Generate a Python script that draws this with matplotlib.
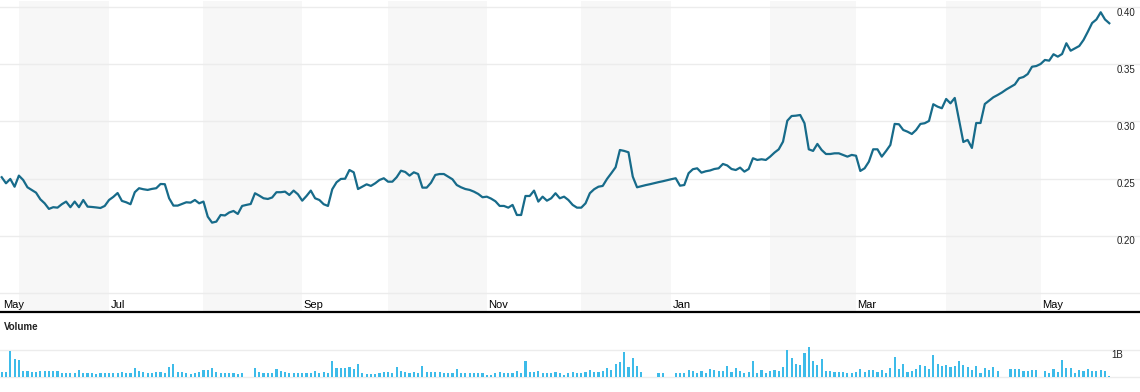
import numpy as np
import pandas as pd
import matplotlib
matplotlib.use("Agg")
import matplotlib.pyplot as plt
from matplotlib.transforms import blended_transform_factory, ScaledTranslation

plt.rcParams["font.family"] = ["Liberation Sans", "DejaVu Sans"]

# ---- data: one value per trading day ----
START = "2012-05-28"

price = [
    0.2512, 0.2459, 0.2497, 0.2429, 0.2526, 0.2488, 0.2424, 0.2401, 0.2377, 0.2319,
    0.2284, 0.2235, 0.2250, 0.2246, 0.2276, 0.2299, 0.2250, 0.2299, 0.2250, 0.2313,
    0.2255, 0.2252, 0.2248, 0.2243, 0.2261, 0.2313, 0.2340, 0.2374, 0.2305, 0.2293,
    0.2276, 0.2381, 0.2416, 0.2407, 0.2401, 0.2410, 0.2416, 0.2453, 0.2451, 0.2328,
    0.2264, 0.2264, 0.2278, 0.2293, 0.2290, 0.2313, 0.2284, 0.2299, 0.2167, 0.2115,
    0.2124, 0.2182, 0.2178, 0.2204, 0.2217, 0.2191, 0.2261, 0.2270, 0.2278, 0.2372,
    0.2351, 0.2328, 0.2322, 0.2335, 0.2381, 0.2381, 0.2386, 0.2357, 0.2395, 0.2363,
    0.2307, 0.2348, 0.2395, 0.2328, 0.2313, 0.2276, 0.2261, 0.2407, 0.2468, 0.2497,
    0.2499, 0.2575, 0.2555, 0.2409, 0.2429, 0.2450, 0.2436, 0.2459, 0.2488, 0.2503,
    0.2473, 0.2473, 0.2512, 0.2569, 0.2558, 0.2526, 0.2555, 0.2540, 0.2421, 0.2421,
    0.2464, 0.2532, 0.2540, 0.2540, 0.2517, 0.2494, 0.2444, 0.2424, 0.2409, 0.2401,
    0.2386, 0.2366, 0.2337, 0.2342, 0.2325, 0.2302, 0.2261, 0.2261, 0.2246, 0.2270,
    0.2182, 0.2182, 0.2348, 0.2348, 0.2395, 0.2299, 0.2342, 0.2307, 0.2328, 0.2372,
    0.2328, 0.2342, 0.2313, 0.2270, 0.2246, 0.2246, 0.2284, 0.2372, 0.2407, 0.2429,
    0.2436, 0.2497, 0.2547, 0.2599, 0.2750, 0.2742, 0.2730, 0.2517, 0.2424, 0.2434,
    0.2443, 0.2451, 0.2460, 0.2469, 0.2477, 0.2486, 0.2495, 0.2503, 0.2438, 0.2444,
    0.2547, 0.2582, 0.2590, 0.2552, 0.2564, 0.2571, 0.2584, 0.2590, 0.2628, 0.2615,
    0.2584, 0.2575, 0.2596, 0.2561, 0.2584, 0.2678, 0.2663, 0.2669, 0.2663, 0.2692,
    0.2727, 0.2756, 0.2823, 0.3006, 0.3047, 0.3050, 0.3056, 0.2984, 0.2756, 0.2742,
    0.2803, 0.2750, 0.2715, 0.2715, 0.2721, 0.2721, 0.2707, 0.2692, 0.2707, 0.2700,
    0.2567, 0.2590, 0.2648, 0.2756, 0.2756, 0.2692, 0.2741, 0.2794, 0.2978, 0.2975,
    0.2925, 0.2910, 0.2890, 0.2925, 0.2978, 0.2984, 0.3004, 0.3150, 0.3129, 0.3115,
    0.3196, 0.3158, 0.3205, 0.3012, 0.2820, 0.2838, 0.2768, 0.2986, 0.2986, 0.3152,
    0.3181, 0.3211, 0.3231, 0.3253, 0.3279, 0.3301, 0.3323, 0.3377, 0.3388, 0.3414,
    0.3478, 0.3484, 0.3502, 0.3537, 0.3531, 0.3587, 0.3566, 0.3589, 0.3683, 0.3618,
    0.3639, 0.3659, 0.3712, 0.3784, 0.3860, 0.3891, 0.3954, 0.3891, 0.3858,
]

# volume in billions (0 = no trade that day)
volume = [
    0.20, 0.20, 0.98, 0.65, 0.62, 0.24, 0.24, 0.19, 0.19, 0.21,
    0.23, 0.23, 0.23, 0.23, 0.13, 0.13, 0.13, 0.13, 0.26, 0.15,
    0.13, 0.15, 0.11, 0.13, 0.13, 0.15, 0.15, 0.13, 0.19, 0.13,
    0.13, 0.33, 0.23, 0.20, 0.13, 0.15, 0.18, 0.18, 0.15, 0.36,
    0.48, 0.17, 0.20, 0.13, 0.11, 0.15, 0.18, 0.25, 0.25, 0.33,
    0.20, 0.15, 0.15, 0.13, 0.13, 0.11, 0.15, 0.00, 0.00, 0.33,
    0.17, 0.15, 0.13, 0.15, 0.30, 0.23, 0.18, 0.15, 0.15, 0.13,
    0.15, 0.13, 0.15, 0.23, 0.13, 0.20, 0.15, 0.58, 0.35, 0.35,
    0.35, 0.37, 0.30, 0.48, 0.15, 0.11, 0.11, 0.11, 0.13, 0.19,
    0.19, 0.15, 0.36, 0.23, 0.19, 0.13, 0.19, 0.13, 0.40, 0.19,
    0.19, 0.19, 0.19, 0.13, 0.13, 0.13, 0.30, 0.15, 0.15, 0.13,
    0.13, 0.15, 0.13, 0.08, 0.08, 0.13, 0.19, 0.13, 0.13, 0.13,
    0.23, 0.15, 0.58, 0.19, 0.19, 0.23, 0.15, 0.15, 0.13, 0.19,
    0.13, 0.08, 0.13, 0.19, 0.15, 0.13, 0.19, 0.26, 0.19, 0.19,
    0.23, 0.33, 0.26, 0.48, 0.56, 0.94, 0.37, 0.69, 0.40, 0.19,
    0.00, 0.00, 0.00, 0.15, 0.13, 0.00, 0.00, 0.13, 0.15, 0.13,
    0.26, 0.23, 0.13, 0.23, 0.15, 0.30, 0.27, 0.23, 0.21, 0.40,
    0.19, 0.33, 0.23, 0.15, 0.19, 0.58, 0.15, 0.26, 0.15, 0.23,
    0.26, 0.23, 0.37, 1.01, 0.69, 0.48, 0.44, 0.90, 1.12, 0.58,
    0.44, 0.65, 0.23, 0.23, 0.19, 0.19, 0.19, 0.15, 0.15, 0.19,
    0.30, 0.19, 0.26, 0.26, 0.19, 0.26, 0.15, 0.33, 0.73, 0.30,
    0.48, 0.19, 0.23, 0.30, 0.44, 0.40, 0.30, 0.80, 0.48, 0.40,
    0.44, 0.37, 0.40, 0.58, 0.44, 0.37, 0.26, 0.40, 0.15, 0.33,
    0.26, 0.37, 0.23, 0.00, 0.00, 0.30, 0.30, 0.30, 0.23, 0.23,
    0.26, 0.26, 0.00, 0.23, 0.15, 0.30, 0.19, 0.62, 0.33, 0.33,
    0.15, 0.26, 0.23, 0.30, 0.23, 0.23, 0.26, 0.23, 0.04,
]

price_ticks = [0.20, 0.25, 0.30, 0.35, 0.40]
grid_levels = [0.15, 0.20, 0.25, 0.30, 0.35, 0.40]

dates = pd.bdate_range(START, periods=len(price))
x = np.arange(len(price))

# month starts (first trading day of each month)
months = dates.month.values
starts = [0] + [i for i in range(1, len(months)) if months[i] != months[i - 1]]
labels = [dates[i].strftime("%b") for i in starts]

# ---- layout in pixels ----
W, H = 1140, 392
px = 4.293  # pixels per trading day
x0 = 1.7
xlim = (-x0 / px, (W - x0) / px)

fig = plt.figure(figsize=(W / 100, H / 100), dpi=100)

# price panel
ax = fig.add_axes([0, (H - 312) / H, 1, 311 / H])
ax.set_xlim(*xlim)
ax.set_ylim(0.40 - 305 * 0.05 / 57.2, 0.40 + 6 * 0.05 / 57.2)

# every other month shaded, the unshaded ones get a label
for k in range(1, len(starts), 2):
    end = starts[k + 1] if k + 1 < len(starts) else len(price)
    ax.axvspan(starts[k], end, color="#f7f7f7", lw=0, zorder=0)

for g in grid_levels:
    ax.axhline(g, color="#ececec", lw=1, zorder=1)

ax.plot(x, price, color="#176b8a", lw=1.6, zorder=3, solid_joinstyle="round")

for s in ["top", "left", "right"]:
    ax.spines[s].set_visible(False)
ax.spines["bottom"].set_color("black")
ax.spines["bottom"].set_linewidth(1.6)
ax.set_xticks([])
ax.set_yticks([])

lab_tr = blended_transform_factory(ax.transData, ax.transAxes) + ScaledTranslation(0.015, 0, fig.dpi_scale_trans)
for i, lab in list(zip(starts, labels))[0::2]:
    ax.text(i, 4 / 311, lab, transform=lab_tr, fontsize=8, va="baseline", ha="left", color="black")

tick_tr = blended_transform_factory(ax.transAxes, ax.transData) + ScaledTranslation(0, -0.087, fig.dpi_scale_trans)
for t in price_ticks:
    ax.text(1117 / W, t, f"{t:.2f}", transform=tick_tr, fontsize=7, va="baseline", ha="left", color="#222222")

# volume panel
axv = fig.add_axes([0, (H - 384) / H, 1, 44 / H])
axv.set_xlim(*xlim)
axv.set_ylim(-7 / 27, 37 / 27)
axv.axhline(0, color="#ececec", lw=1, zorder=0)
axv.axhline(1, color="#ececec", lw=1, zorder=0)
axv.bar(x, volume, width=0.5, color="#3dbbe9", zorder=2)
axv.axis("off")

fig.text(4 / W, (H - 330) / H, "Volume", fontsize=7, fontweight="bold", ha="left", va="baseline", color="#222222")
fig.text(1111 / W, (H - 358) / H, "1B", fontsize=7, ha="left", va="baseline", color="#222222")

fig.savefig("out.png", dpi=100)
